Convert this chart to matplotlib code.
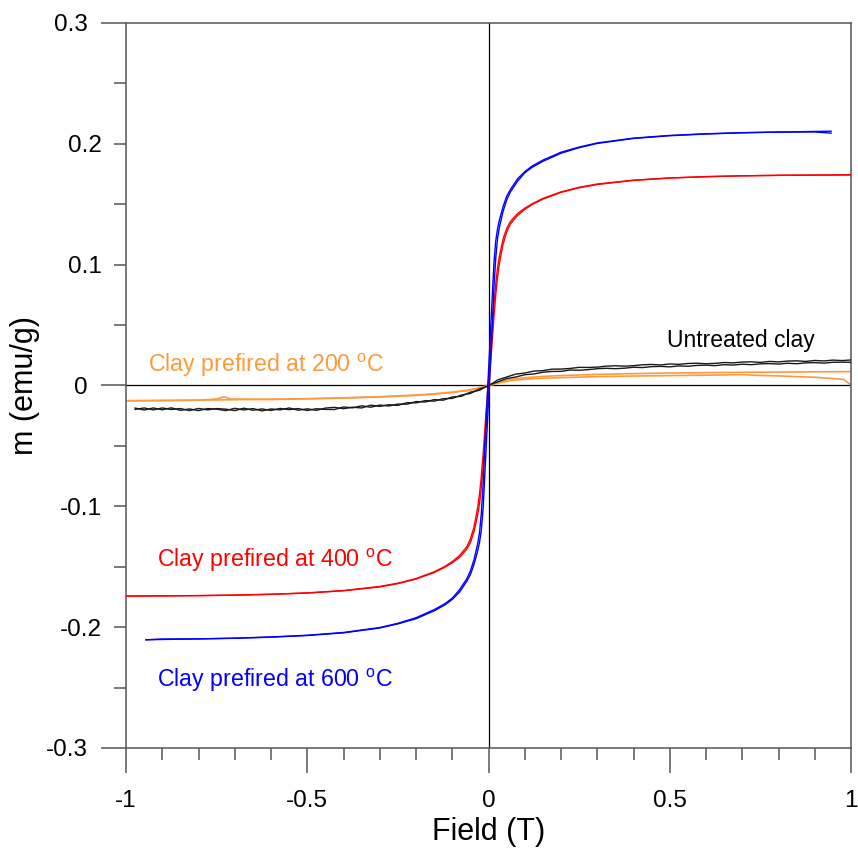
import matplotlib
matplotlib.use("Agg")
import matplotlib.pyplot as plt
import numpy as np

plt.rcParams['font.family'] = ['Liberation Sans', 'DejaVu Sans']
plt.rcParams['mathtext.fontset'] = 'custom'
plt.rcParams['mathtext.rm'] = 'Liberation Sans'

# --- data (field in T, moment in emu/g) ---
# clay prefired at 600 C
field_600 = [-0.945, -0.9, -0.8, -0.7, -0.6, -0.5, -0.4, -0.3, -0.25, -0.2, -0.15, -0.12, -0.1,
             -0.08, -0.06, -0.05, -0.04, -0.03, -0.025, -0.02, -0.015, -0.01, -0.005, 0,
             0.005, 0.01, 0.015, 0.02, 0.025, 0.03, 0.04, 0.05, 0.06, 0.08, 0.1, 0.12, 0.15,
             0.2, 0.25, 0.3, 0.4, 0.5, 0.6, 0.7, 0.8, 0.9, 0.945]
m_600_down = [-0.2104, -0.2102, -0.2097, -0.2091, -0.2081, -0.2067, -0.2044, -0.2003, -0.1968,
              -0.1922, -0.1855, -0.1805, -0.176, -0.169, -0.160, -0.1535, -0.144, -0.131,
              -0.122, -0.106, -0.082, -0.048, -0.018, 0.012, 0.042, 0.072, 0.102, 0.120,
              0.130, 0.137, 0.148, 0.1565, 0.162, 0.171, 0.177, 0.1815, 0.1865, 0.193,
              0.1973, 0.2007, 0.2047, 0.2069, 0.2083, 0.2092, 0.2097, 0.2098, 0.2088]
m_600_up = [-0.2105, -0.2098, -0.2097, -0.2092, -0.2083, -0.2069, -0.2047, -0.2007, -0.1973,
            -0.193, -0.1865, -0.1815, -0.177, -0.171, -0.162, -0.1565, -0.148, -0.137,
            -0.130, -0.120, -0.102, -0.072, -0.042, -0.012, 0.018, 0.048, 0.082, 0.106,
            0.122, 0.131, 0.144, 0.1535, 0.160, 0.169, 0.176, 0.1805, 0.1855, 0.1922,
            0.1968, 0.2003, 0.2044, 0.2067, 0.2081, 0.2091, 0.2097, 0.2102, 0.2104]

# clay prefired at 400 C
field_400 = [-1.0, -0.9, -0.8, -0.7, -0.6, -0.5, -0.4, -0.3, -0.25, -0.2, -0.15, -0.12, -0.1,
             -0.08, -0.06, -0.05, -0.04, -0.03, -0.025, -0.02, -0.015, -0.01, -0.005, 0,
             0.005, 0.01, 0.015, 0.02, 0.025, 0.03, 0.04, 0.05, 0.06, 0.08, 0.1, 0.12, 0.15,
             0.2, 0.25, 0.3, 0.4, 0.5, 0.6, 0.7, 0.8, 0.9, 1.0]
m_400_down = [-0.1743, -0.1741, -0.1739, -0.1735, -0.1728, -0.1717, -0.1697, -0.1663, -0.1636,
              -0.1598, -0.1542, -0.1497, -0.1457, -0.1407, -0.1335, -0.127, -0.117, -0.101,
              -0.090, -0.0755, -0.057, -0.036, -0.015, 0.006, 0.027, 0.048, 0.067, 0.0845,
              0.098, 0.107, 0.121, 0.130, 0.1355, 0.1423, 0.1467, 0.1503, 0.1548, 0.1602,
              0.164, 0.1667, 0.1699, 0.1717, 0.1728, 0.1735, 0.1739, 0.1741, 0.1743]
m_400_up = [-0.1743, -0.1741, -0.1739, -0.1735, -0.1728, -0.1717, -0.1699, -0.1667, -0.164,
            -0.1602, -0.1548, -0.1503, -0.1467, -0.1423, -0.1355, -0.130, -0.121, -0.107,
            -0.098, -0.0845, -0.067, -0.048, -0.027, -0.006, 0.015, 0.036, 0.057, 0.0755,
            0.090, 0.101, 0.117, 0.127, 0.1335, 0.1407, 0.1457, 0.1497, 0.1542, 0.1598,
            0.1636, 0.1663, 0.1697, 0.1717, 0.1728, 0.1735, 0.1739, 0.1741, 0.1743]

# clay prefired at 200 C
field_200 = [-1.0, -0.9, -0.8, -0.75, -0.73, -0.71, -0.6, -0.5, -0.4, -0.3, -0.2, -0.15, -0.1,
             -0.06, -0.03, 0, 0.03, 0.06, 0.1, 0.15, 0.2, 0.3, 0.4, 0.5, 0.6, 0.7, 0.75, 0.8,
             0.9, 0.95, 0.98, 1.0]
m_200_a = [-0.0126, -0.0124, -0.0121, -0.0120, -0.0119, -0.0118, -0.0114, -0.0109, -0.0102,
           -0.0093, -0.0079, -0.0069, -0.0055, -0.0040, -0.0022, 0.0002, 0.0030, 0.0050,
           0.0064, 0.0075, 0.0082, 0.0092, 0.0098, 0.0103, 0.0106, 0.0109, 0.0110, 0.0111,
           0.0113, 0.0114, 0.0114, 0.0114]
m_200_b = [-0.0127, -0.0125, -0.0122, -0.0112, -0.0094, -0.0112, -0.0116, -0.0111, -0.0104,
           -0.0095, -0.0082, -0.0072, -0.0058, -0.0043, -0.0026, -0.0003, 0.0022, 0.0040,
           0.0052, 0.0060, 0.0065, 0.0073, 0.0078, 0.0082, 0.0085, 0.0089, 0.0083, 0.0079,
           0.0068, 0.0057, 0.0050, 0.0003]

# untreated clay (values in 1e-3 emu/g)
field_raw = [-0.975, -0.95, -0.925, -0.9, -0.875, -0.85, -0.825, -0.8, -0.775, -0.75, -0.725,
             -0.7, -0.675, -0.65, -0.625, -0.6, -0.575, -0.55, -0.525, -0.5, -0.475, -0.45,
             -0.425, -0.4, -0.375, -0.35, -0.325, -0.3, -0.275, -0.25, -0.225, -0.2, -0.175,
             -0.15, -0.125, -0.1, -0.075, -0.05, -0.025, 0, 0.025, 0.05, 0.075, 0.1, 0.125,
             0.15, 0.175, 0.2, 0.225, 0.25, 0.275, 0.3, 0.325, 0.35, 0.375, 0.4, 0.425, 0.45,
             0.475, 0.5, 0.525, 0.55, 0.575, 0.6, 0.625, 0.65, 0.675, 0.7, 0.725, 0.75, 0.775,
             0.8, 0.825, 0.85, 0.875, 0.9, 0.925, 0.95, 0.975, 1.0]
m_raw_a = [-18.7, -20.3, -18.6, -20.1, -18.5, -20.6, -19.4, -20.8, -19.1, -19.6, -20.8, -18.9,
           -20.3, -19.1, -21.0, -19.4, -20.2, -18.6, -20.5, -19.3, -20.6, -18.7, -18.1, -19.2,
           -18.0, -18.6, -16.3, -17.3, -15.9, -16.5, -14.2, -14.4, -12.5, -13.0, -10.9, -10.7,
           -7.9, -6.6, -2.9, -0.4, 4.6, 7.0, 9.4, 10.3, 11.9, 12.3, 13.5, 13.6, 14.1, 15.0,
           14.9, 15.2, 16.0, 16.3, 16.0, 16.4, 17.1, 17.4, 17.0, 17.8, 17.5, 18.2, 18.4, 18.0,
           18.3, 19.0, 18.7, 19.4, 19.6, 19.1, 19.9, 19.5, 20.2, 20.4, 19.9, 20.7, 20.3, 21.0,
           20.6, 21.1]
m_raw_b = [-19.8, -18.6, -20.2, -18.6, -19.9, -19.1, -20.8, -19.0, -20.2, -19.1, -19.6, -20.8,
           -18.8, -20.5, -19.4, -20.7, -19.0, -20.0, -19.1, -20.7, -19.2, -19.8, -19.9, -17.8,
           -18.5, -16.8, -18.0, -16.2, -17.0, -15.4, -15.5, -13.3, -13.7, -11.7, -12.2, -9.5,
           -9.0, -5.5, -4.0, 0.3, 2.9, 5.7, 7.0, 8.9, 9.5, 11.0, 11.6, 11.7, 12.8, 12.6, 13.1,
           13.9, 14.2, 13.9, 14.3, 15.1, 14.8, 15.6, 15.8, 15.4, 16.2, 15.9, 16.6, 16.8, 16.4,
           17.2, 16.9, 17.6, 17.2, 17.9, 18.1, 17.7, 18.4, 18.0, 18.7, 18.9, 18.5, 19.2, 19.3,
           19.1]

labels = ["Clay prefired at 200 $^{\\mathrm{o}}$C", "Untreated clay",
          "Clay prefired at 400 $^{\\mathrm{o}}$C", "Clay prefired at 600 $^{\\mathrm{o}}$C"]

orange = '#FF9A3C'
spine_col = '#555555'

fig = plt.figure(figsize=(8.58, 8.5), dpi=100)
ax = fig.add_axes([0.1469, 0.12, 0.845, 0.853])

ax.axhline(0, color='black', lw=0.9, zorder=1)
ax.axvline(0, color='black', lw=0.9, zorder=1)

ax.plot(field_200, m_200_a, color=orange, lw=1.2, zorder=2)
ax.plot(field_200, m_200_b, color=orange, lw=1.2, zorder=2)
ax.plot(field_raw, np.array(m_raw_a) * 1e-3, color='#1a1a1a', lw=1.0, zorder=3)
ax.plot(field_raw, np.array(m_raw_b) * 1e-3, color='#1a1a1a', lw=1.0, zorder=3)
ax.plot(field_400, m_400_down, color='red', lw=1.0, zorder=4)
ax.plot(field_400, m_400_up, color='red', lw=1.0, zorder=4)
ax.plot(field_600, m_600_down, color='blue', lw=1.0, zorder=5)
ax.plot(field_600, m_600_up, color='blue', lw=1.0, zorder=5)

ax.text(-0.9393, 0.0112, labels[0], color=orange, fontsize=16.7, va='baseline', ha='left')
ax.text(0.4924, 0.0321, labels[1], color='black', fontsize=16.5, va='baseline', ha='left')
ax.text(-0.9153, -0.150, labels[2], color='red', fontsize=16.7, va='baseline', ha='left')
ax.text(-0.9153, -0.2498, labels[3], color='blue', fontsize=16.7, va='baseline', ha='left')

ax.set_xlim(-1, 1)
ax.set_ylim(-0.3, 0.3)

# x ticks: long at 0.5 steps, short every 0.1
x_major = [-1, -0.5, 0, 0.5, 1]
x_minor = [-0.9, -0.8, -0.7, -0.6, -0.4, -0.3, -0.2, -0.1,
           0.1, 0.2, 0.3, 0.4, 0.6, 0.7, 0.8, 0.9]
ax.set_xticks(x_major, labels=['-1', '-0.5', '0', '0.5', '1'])
ax.set_xticks(x_minor, minor=True)

# y ticks: long at -0.3, 0, 0.3, short every 0.05, labels every 0.1
y_major = [-0.3, 0, 0.3]
y_minor = [-0.25, -0.2, -0.15, -0.1, -0.05, 0.05, 0.1, 0.15, 0.2, 0.25]
y_minor_labels = ['', '-0.2', '', '-0.1', '', '', '0.1', '', '0.2', '']
ax.set_yticks(y_major, labels=['-0.3', '0', '0.3'])
ax.set_yticks(y_minor, labels=y_minor_labels, minor=True)

ax.tick_params(which='both', direction='out', color=spine_col, width=1.1,
               labelsize=17.5, top=False, right=False)
ax.tick_params(axis='x', which='major', length=18, pad=12)
ax.tick_params(axis='x', which='minor', length=8.6)
ax.tick_params(axis='y', which='major', length=18, pad=9.4)
ax.tick_params(axis='y', which='minor', length=8.6, pad=8.8)

for s in ax.spines.values():
    s.set_color(spine_col)
    s.set_linewidth(1.1)

ax.set_xlabel('Field (T)', fontsize=22)
ax.set_ylabel('m (emu/g)', fontsize=22)
ax.xaxis.set_label_coords(0.5, -0.095)
ax.yaxis.set_label_coords(-0.119, 0.5)

fig.savefig('out.png', dpi=100)
